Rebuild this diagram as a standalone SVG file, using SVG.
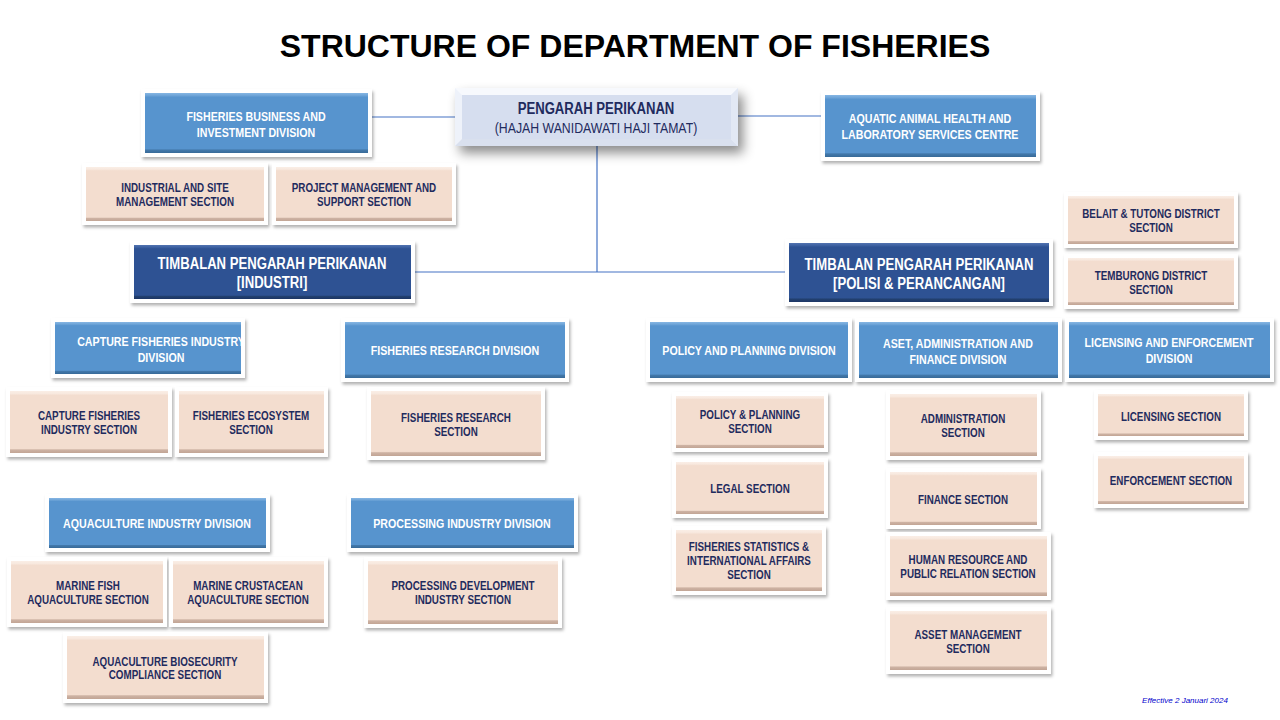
<svg xmlns="http://www.w3.org/2000/svg" width="1280" height="720" viewBox="0 0 1280 720">
<defs>
<filter id="sh" x="-10%" y="-20%" width="125%" height="150%"><feDropShadow dx="1.5" dy="2.5" stdDeviation="1.8" flood-color="#000" flood-opacity="0.3"/></filter>
<filter id="shBig" x="-20%" y="-40%" width="150%" height="200%"><feDropShadow dx="5" dy="7" stdDeviation="6" flood-color="#000" flood-opacity="0.45"/></filter>
<linearGradient id="gPe" x1="0" y1="0" x2="0" y2="1">
<stop offset="0" stop-color="#FAEEE6"/><stop offset="0.04" stop-color="#F8E9DF"/><stop offset="0.07" stop-color="#F3DDCF"/><stop offset="0.93" stop-color="#F3DDCF"/><stop offset="0.95" stop-color="#CDB2A3"/><stop offset="1" stop-color="#C2A595"/>
</linearGradient>
<linearGradient id="gBl" x1="0" y1="0" x2="0" y2="1">
<stop offset="0" stop-color="#86B6E3"/><stop offset="0.04" stop-color="#6FA5D8"/><stop offset="0.07" stop-color="#5794CE"/><stop offset="0.93" stop-color="#5794CE"/><stop offset="0.95" stop-color="#4278AA"/><stop offset="1" stop-color="#386A98"/>
</linearGradient>
<linearGradient id="gDb" x1="0" y1="0" x2="0" y2="1">
<stop offset="0" stop-color="#5273B0"/><stop offset="0.04" stop-color="#3E62A2"/><stop offset="0.07" stop-color="#2E5293"/><stop offset="0.93" stop-color="#2E5293"/><stop offset="0.95" stop-color="#22406F"/><stop offset="1" stop-color="#1C3565"/>
</linearGradient>
</defs>
<style>
.fr{fill:#fff;filter:url(#sh)}
.pe{fill:url(#gPe)}
.bl{fill:url(#gBl)}
.db{fill:url(#gDb)}
text{text-anchor:middle;font-family:"Liberation Sans",Arial,sans-serif;font-weight:bold}
.ts{font-size:12px;fill:#1F2B5E}
.tw{font-size:13px;fill:#fff}
.tb{font-size:16px;fill:#fff}
.con line{stroke:#4472C4;stroke-width:1.2}
</style>
<rect width="1280" height="720" fill="#fff"/>
<text x="635" y="57" style="font-size:32px;fill:#000">STRUCTURE OF DEPARTMENT OF FISHERIES</text>

<g class="con" id="connectors">
<line x1="372" y1="117" x2="455" y2="117"/>
<line x1="738" y1="116" x2="821" y2="116"/>
<line x1="597" y1="146" x2="597" y2="272"/>
<line x1="415" y1="272" x2="785" y2="272"/>
</g>

<g id="pengarah">
<rect x="455" y="88" width="283" height="58" fill="#EEF2FA" filter="url(#shBig)"/>
<polygon points="455,88 738,88 731,95 462,95" fill="#F7F9FD"/>
<polygon points="455,146 738,146 731,139 462,139" fill="#D9E0EE"/>
<polygon points="738,88 738,146 731,139 731,95" fill="#E2E8F4"/>
<rect x="462" y="95" width="269" height="44" fill="#D6DEEF"/>
<g transform="translate(596 0) scale(0.82 1)">
<text x="0" y="114" style="font-size:16px;fill:#1F2B5E">PENGARAH  PERIKANAN</text>
<text x="0" y="133" style="font-size:15px;font-weight:normal;fill:#1F2B5E">(HAJAH WANIDAWATI HAJI TAMAT)</text>
</g>
</g>

<g id="fbid"><rect class="fr" x="141" y="89" width="231" height="68"/><rect class="bl" x="145" y="93" width="223" height="60"/>
<g transform="translate(256 0) scale(0.82 1)"><text class="tw" x="0" y="121">FISHERIES BUSINESS AND</text><text class="tw" x="0" y="137">INVESTMENT DIVISION</text></g></g>

<g id="aquatic"><rect class="fr" x="821" y="91" width="219" height="70"/><rect class="bl" x="825" y="95" width="211" height="62"/>
<g transform="translate(930 0) scale(0.82 1)"><text class="tw" x="0" y="123">AQUATIC ANIMAL HEALTH AND</text><text class="tw" x="0" y="139">LABORATORY  SERVICES CENTRE</text></g></g>

<g id="isms"><rect class="fr" x="82" y="163" width="186" height="62"/><rect class="pe" x="86" y="167" width="178" height="54"/>
<g transform="translate(175 0) scale(0.82 1)"><text class="ts" x="0" y="192">INDUSTRIAL AND SITE</text><text class="ts" x="0" y="206">MANAGEMENT  SECTION</text></g></g>

<g id="pmss"><rect class="fr" x="272" y="163" width="184" height="62"/><rect class="pe" x="276" y="167" width="176" height="54"/>
<g transform="translate(364 0) scale(0.82 1)"><text class="ts" x="0" y="192">PROJECT MANAGEMENT  AND</text><text class="ts" x="0" y="206">SUPPORT SECTION</text></g></g>

<g id="tpi"><rect class="fr" x="130" y="241" width="285" height="62"/><rect class="db" x="134" y="245" width="277" height="54"/>
<g transform="translate(272 0) scale(0.82 1)"><text class="tb" x="0" y="269">TIMBALAN PENGARAH  PERIKANAN</text><text class="tb" x="0" y="288">[INDUSTRI]</text></g></g>

<g id="tpp"><rect class="fr" x="785" y="239" width="268" height="67"/><rect class="db" x="789" y="243" width="260" height="59"/>
<g transform="translate(919 0) scale(0.82 1)"><text class="tb" x="0" y="270">TIMBALAN PENGARAH PERIKANAN</text><text class="tb" x="0" y="289">[POLISI &amp; PERANCANGAN]</text></g></g>

<g id="belait"><rect class="fr" x="1064" y="192" width="174" height="56"/><rect class="pe" x="1068" y="196" width="166" height="48"/>
<g transform="translate(1151 0) scale(0.82 1)"><text class="ts" x="0" y="218">BELAIT &amp; TUTONG DISTRICT</text><text class="ts" x="0" y="232">SECTION</text></g></g>

<g id="temburong"><rect class="fr" x="1064" y="254" width="174" height="55"/><rect class="pe" x="1068" y="258" width="166" height="47"/>
<g transform="translate(1151 0) scale(0.82 1)"><text class="ts" x="0" y="280">TEMBURONG DISTRICT</text><text class="ts" x="0" y="294">SECTION</text></g></g>

<g id="cfid"><rect class="fr" x="51" y="318" width="194" height="60"/><rect class="bl" x="55" y="322" width="186" height="52"/>
<g transform="translate(161 0) scale(0.82 1)"><text class="tw" x="0" y="346">CAPTURE  FISHERIES INDUSTRY</text><text class="tw" x="0" y="362">DIVISION</text></g></g>

<g id="frd"><rect class="fr" x="341" y="318" width="228" height="64"/><rect class="bl" x="345" y="322" width="220" height="56"/>
<g transform="translate(455 0) scale(0.82 1)"><text class="tw" x="0" y="355">FISHERIES RESEARCH DIVISION</text></g></g>

<g id="ppd"><rect class="fr" x="646" y="318" width="206" height="64"/><rect class="bl" x="650" y="322" width="198" height="56"/>
<g transform="translate(749 0) scale(0.82 1)"><text class="tw" x="0" y="355">POLICY AND PLANNING DIVISION</text></g></g>

<g id="aafd"><rect class="fr" x="855" y="318" width="207" height="64"/><rect class="bl" x="859" y="322" width="199" height="56"/>
<g transform="translate(958 0) scale(0.82 1)"><text class="tw" x="0" y="348">ASET,  ADMINISTRATION AND</text><text class="tw" x="0" y="364">FINANCE DIVISION</text></g></g>

<g id="led"><rect class="fr" x="1065" y="318" width="209" height="64"/><rect class="bl" x="1069" y="322" width="201" height="56"/>
<g transform="translate(1169 0) scale(0.82 1)"><text class="tw" x="0" y="347">LICENSING AND ENFORCEMENT</text><text class="tw" x="0" y="363">DIVISION</text></g></g>

<g id="cfis"><rect class="fr" x="6" y="387" width="166" height="70"/><rect class="pe" x="10" y="391" width="158" height="62"/>
<g transform="translate(89 0) scale(0.82 1)"><text class="ts" x="0" y="420">CAPTURE FISHERIES</text><text class="ts" x="0" y="434">INDUSTRY SECTION</text></g></g>

<g id="fes"><rect class="fr" x="175" y="387" width="153" height="70"/><rect class="pe" x="179" y="391" width="145" height="62"/>
<g transform="translate(251 0) scale(0.82 1)"><text class="ts" x="0" y="420">FISHERIES ECOSYSTEM</text><text class="ts" x="0" y="434">SECTION</text></g></g>

<g id="frs"><rect class="fr" x="367" y="387" width="178" height="73"/><rect class="pe" x="371" y="391" width="170" height="65"/>
<g transform="translate(456 0) scale(0.82 1)"><text class="ts" x="0" y="422">FISHERIES RESEARCH</text><text class="ts" x="0" y="436">SECTION</text></g></g>

<g id="pps"><rect class="fr" x="672" y="392" width="156" height="60"/><rect class="pe" x="676" y="396" width="148" height="52"/>
<g transform="translate(750 0) scale(0.82 1)"><text class="ts" x="0" y="419">POLICY &amp; PLANNING</text><text class="ts" x="0" y="433">SECTION</text></g></g>

<g id="legal"><rect class="fr" x="672" y="458" width="156" height="60"/><rect class="pe" x="676" y="462" width="148" height="52"/>
<g transform="translate(750 0) scale(0.82 1)"><text class="ts" x="0" y="493">LEGAL  SECTION</text></g></g>

<g id="fsias"><rect class="fr" x="672" y="526" width="154" height="69"/><rect class="pe" x="676" y="530" width="146" height="61"/>
<g transform="translate(749 0) scale(0.82 1)"><text class="ts" x="0" y="551">FISHERIES STATISTICS &amp;</text><text class="ts" x="0" y="565">INTERNATIONAL AFFAIRS</text><text class="ts" x="0" y="579">SECTION</text></g></g>

<g id="admin"><rect class="fr" x="886" y="390" width="155" height="70"/><rect class="pe" x="890" y="394" width="147" height="62"/>
<g transform="translate(963 0) scale(0.82 1)"><text class="ts" x="0" y="423">ADMINISTRATION</text><text class="ts" x="0" y="437">SECTION</text></g></g>

<g id="finance"><rect class="fr" x="886" y="468" width="155" height="61"/><rect class="pe" x="890" y="472" width="147" height="53"/>
<g transform="translate(963 0) scale(0.82 1)"><text class="ts" x="0" y="504">FINANCE SECTION</text></g></g>

<g id="hr"><rect class="fr" x="886" y="532" width="165" height="68"/><rect class="pe" x="890" y="536" width="157" height="60"/>
<g transform="translate(968 0) scale(0.82 1)"><text class="ts" x="0" y="564">HUMAN RESOURCE  AND</text><text class="ts" x="0" y="578">PUBLIC RELATION SECTION</text></g></g>

<g id="asset"><rect class="fr" x="886" y="607" width="165" height="67"/><rect class="pe" x="890" y="611" width="157" height="59"/>
<g transform="translate(968 0) scale(0.82 1)"><text class="ts" x="0" y="639">ASSET MANAGEMENT</text><text class="ts" x="0" y="653">SECTION</text></g></g>

<g id="lic"><rect class="fr" x="1094" y="390" width="154" height="50"/><rect class="pe" x="1098" y="394" width="146" height="42"/>
<g transform="translate(1171 0) scale(0.82 1)"><text class="ts" x="0" y="421">LICENSING SECTION</text></g></g>

<g id="enf"><rect class="fr" x="1094" y="452" width="154" height="56"/><rect class="pe" x="1098" y="456" width="146" height="48"/>
<g transform="translate(1171 0) scale(0.82 1)"><text class="ts" x="0" y="485">ENFORCEMENT  SECTION</text></g></g>

<g id="aqid"><rect class="fr" x="45" y="494" width="225" height="58"/><rect class="bl" x="49" y="498" width="217" height="50"/>
<g transform="translate(157 0) scale(0.82 1)"><text class="tw" x="0" y="528">AQUACULTURE  INDUSTRY DIVISION</text></g></g>

<g id="pid"><rect class="fr" x="347" y="494" width="231" height="58"/><rect class="bl" x="351" y="498" width="223" height="50"/>
<g transform="translate(462 0) scale(0.82 1)"><text class="tw" x="0" y="528">PROCESSING INDUSTRY DIVISION</text></g></g>

<g id="mfas"><rect class="fr" x="7" y="557" width="160" height="70"/><rect class="pe" x="11" y="561" width="152" height="62"/>
<g transform="translate(88 0) scale(0.82 1)"><text class="ts" x="0" y="590">MARINE FISH</text><text class="ts" x="0" y="604">AQUACULTURE SECTION</text></g></g>

<g id="mcas"><rect class="fr" x="169" y="557" width="159" height="70"/><rect class="pe" x="173" y="561" width="151" height="62"/>
<g transform="translate(248 0) scale(0.82 1)"><text class="ts" x="0" y="590">MARINE CRUSTACEAN</text><text class="ts" x="0" y="604">AQUACULTURE SECTION</text></g></g>

<g id="pdis"><rect class="fr" x="364" y="557" width="198" height="71"/><rect class="pe" x="368" y="561" width="190" height="63"/>
<g transform="translate(463 0) scale(0.82 1)"><text class="ts" x="0" y="590">PROCESSING DEVELOPMENT</text><text class="ts" x="0" y="604">INDUSTRY SECTION</text></g></g>

<g id="abcs"><rect class="fr" x="63" y="632" width="205" height="71"/><rect class="pe" x="67" y="636" width="197" height="63"/>
<g transform="translate(165 0) scale(0.82 1)"><text class="ts" x="0" y="666">AQUACULTURE BIOSECURITY</text><text class="ts" x="0" y="679">COMPLIANCE SECTION</text></g></g>

<text x="1185" y="703" style="font-weight:normal;font-style:italic;font-size:8px;fill:#0000CC">Effective  2 Januari  2024</text>
</svg>
